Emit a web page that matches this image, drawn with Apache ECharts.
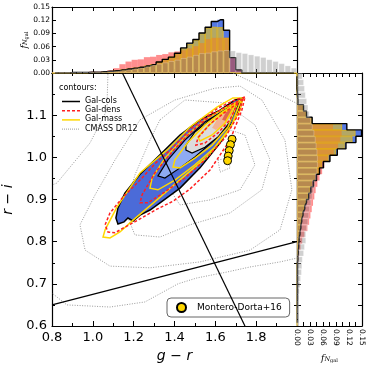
<!DOCTYPE html>
<html><head><meta charset="utf-8">
<script src="https://cdn.jsdelivr.net/npm/echarts@6/dist/echarts.min.js"></script>
<style>html,body{margin:0;padding:0;background:#fff}#c{width:371px;height:371px}</style>
</head><body><div id="c"></div>
<script>
// ---------- histogram bins ----------
const grCenters = [0.815,0.845,0.875,0.905,0.935,0.965,0.995,1.025,1.055,1.085,1.115,1.145,1.175,1.205,1.235,1.265,1.295,1.325,1.355,1.385,1.415,1.445,1.475,1.505,1.535,1.565,1.595,1.625,1.655,1.685,1.715,1.745,1.775,1.805,1.835,1.865,1.895,1.925,1.955,1.985];
const topCols  = [0,0,0,0.001,0.001,0.001,0.002,0.002,0.003,0.004, 0.005,0.007,0.009,0.011,0.013,0.016,0.019,0.025,0.031,0.036, 0.045,0.057,0.068,0.076,0.091,0.104,0.117,0.121,0.097,0.035, 0.007,0,0,0,0,0,0,0,0,0];
const topDens  = [0.001,0.001,0.001,0.001,0.002,0.002,0.003,0.003,0.004,0.006, 0.011,0.020,0.026,0.030,0.031,0.036,0.037,0.041,0.043,0.047, 0.049,0.052,0.056,0.061,0.068,0.077,0.080,0.080,0.080,0.036, 0.007,0,0,0,0,0,0,0,0,0];
const topMass  = [0,0,0,0.001,0.001,0.001,0.002,0.002,0.003,0.004, 0.006,0.008,0.010,0.012,0.014,0.017,0.020,0.026,0.032,0.037, 0.045,0.056,0.066,0.075,0.090,0.103,0.105,0.104,0.080,0.002, 0,0,0,0,0,0,0,0,0,0];
const topCmass = [0.001,0.001,0.001,0.001,0.002,0.002,0.002,0.003,0.003,0.004, 0.005,0.006,0.008,0.010,0.012,0.015,0.018,0.021,0.024,0.027, 0.030,0.034,0.037,0.041,0.045,0.046,0.049,0.051,0.052,0.051, 0.047,0.045,0.042,0.039,0.036,0.031,0.027,0.022,0.017,0.012];

const riCenters = [0.6075,0.6225,0.6375,0.6525,0.6675,0.6825,0.6975,0.7125,0.7275,0.7425,0.7575,0.7725,0.7875,0.8025,0.8175,0.8325,0.8475,0.8625,0.8775,0.8925,0.9075,0.9225,0.9375,0.9525,0.9675,0.9825,0.9975,1.0125,1.0275,1.0425,1.0575,1.0725,1.0875,1.1025,1.1175,1.1325,1.1475,1.1625,1.1775,1.1925];
const rightCols  = [0.001,0.001,0.001,0.001,0.001,0.001,0.001,0.001,0.001,0.001, 0.002,0.003,0.004,0.005,0.007,0.009,0.011,0.014,0.018,0.022, 0.027,0.032,0.038,0.045,0.052,0.061,0.076,0.093,0.113,0.136, 0.149,0.115,0.035,0.022,0.015,0.002,0.001,0,0,0];
const rightDens  = [0.001,0.001,0.001,0.001,0.001,0.001,0.001,0.001,0.001,0.001, 0.003,0.005,0.008,0.012,0.017,0.024,0.028,0.031,0.034,0.037, 0.040,0.043,0.047,0.052,0.058,0.063,0.072,0.085,0.095,0.100, 0.103,0.083,0.033,0.020,0.013,0.002,0.001,0,0,0];
const rightMass  = [0.001,0.001,0.001,0.001,0.001,0.001,0.001,0.001,0.001,0.001, 0.002,0.003,0.004,0.005,0.006,0.008,0.010,0.013,0.016,0.020, 0.025,0.030,0.035,0.042,0.050,0.058,0.073,0.090,0.110,0.128, 0.135,0.104,0.034,0.021,0.014,0.002,0.001,0,0,0];
const rightCmass = [0.002,0.002,0.003,0.004,0.005,0.006,0.008,0.009,0.011,0.012, 0.013,0.016,0.018,0.021,0.021,0.023,0.026,0.028,0.030,0.033, 0.036,0.039,0.042,0.045,0.047,0.048,0.048,0.047,0.045,0.043, 0.040,0.036,0.032,0.029,0.026,0.023,0.020,0.018,0.016,0.013];

// ---------- contours (g-r, r-i) ----------
const colsL1 = [[1.735,1.141],[1.696,1.136],[1.623,1.112],[1.525,1.089],[1.427,1.053],[1.329,1.006],[1.231,0.960],[1.157,0.915],[1.123,0.880],[1.113,0.856],[1.123,0.842],[1.153,0.847],[1.172,0.856],[1.197,0.849],[1.231,0.863],[1.280,0.875],[1.329,0.892],[1.427,0.927],[1.525,0.975],[1.623,1.034],[1.696,1.093]];
const colsL2 = [[1.721,1.136],[1.647,1.112],[1.549,1.084],[1.451,1.041],[1.368,0.994],[1.319,0.956],[1.353,0.951],[1.427,0.975],[1.500,1.001],[1.584,1.036],[1.662,1.074]];
const colsL3 = [[1.701,1.126],[1.647,1.112],[1.574,1.089],[1.500,1.060],[1.456,1.029],[1.456,1.017],[1.486,1.010],[1.549,1.024],[1.613,1.048],[1.672,1.084]];
const colsL4 = [[1.701,1.126],[1.662,1.117],[1.613,1.093],[1.584,1.070],[1.603,1.065],[1.647,1.079],[1.681,1.100]];
const colsL5 = [[1.691,1.122],[1.652,1.107],[1.633,1.089],[1.652,1.086],[1.681,1.105]];
const massL1 = [[1.735,1.141],[1.686,1.141],[1.608,1.119],[1.476,1.072],[1.363,1.017],[1.231,0.963],[1.118,0.882],[1.060,0.828],[1.050,0.811],[1.084,0.809],[1.133,0.823],[1.197,0.851],[1.314,0.899],[1.442,0.953],[1.559,1.001],[1.657,1.058],[1.721,1.112]];
const massL2 = [[1.726,1.136],[1.647,1.117],[1.549,1.089],[1.451,1.048],[1.353,0.998],[1.290,0.951],[1.280,0.927],[1.319,0.923],[1.402,0.946],[1.500,0.982],[1.598,1.024],[1.681,1.077]];
const massL3 = [[1.711,1.131],[1.633,1.107],[1.549,1.077],[1.466,1.036],[1.402,0.994],[1.393,0.977],[1.427,0.975],[1.500,0.998],[1.584,1.029],[1.662,1.072]];
const massL4 = [[1.696,1.124],[1.633,1.103],[1.564,1.074],[1.515,1.048],[1.525,1.039],[1.584,1.053],[1.647,1.081]];
const densL1 = [[1.745,1.143],[1.696,1.136],[1.613,1.117],[1.486,1.070],[1.378,1.017],[1.309,0.987],[1.231,0.946],[1.148,0.906],[1.084,0.868],[1.060,0.840],[1.074,0.823],[1.109,0.821],[1.148,0.832],[1.231,0.854],[1.314,0.877],[1.393,0.896],[1.476,0.925],[1.574,0.970],[1.672,1.041],[1.730,1.112]];
const densL2 = [[1.735,1.138],[1.662,1.122],[1.574,1.098],[1.476,1.058],[1.388,1.013],[1.304,0.963],[1.241,0.911],[1.231,0.892],[1.270,0.892],[1.353,0.918],[1.451,0.951],[1.549,0.994],[1.647,1.046],[1.711,1.100]];
const densL3 = [[1.711,1.129],[1.647,1.107],[1.574,1.079],[1.515,1.046],[1.505,1.029],[1.549,1.034],[1.613,1.058],[1.672,1.089]];
const cmassL1 = [[1.094,1.231],[1.074,1.2],[1.069,1.112],[0.986,1.034],[0.824,0.939],[0.741,0.923],[0.741,0.685],[0.8,0.678],[0.873,0.650],[1.084,0.645],[1.255,0.657],[1.417,0.700],[1.510,0.714],[1.657,0.728],[1.770,0.740],[1.917,0.752],[2.063,0.768],[2.063,1.112],[1.966,1.136],[1.686,1.2],[1.672,1.231]];
const cmassL2 = [[1.231,1.089],[1.402,1.136],[1.598,1.164],[1.721,1.169],[1.828,1.136],[1.941,1.041],[1.975,0.923],[1.917,0.828],[1.770,0.780],[1.525,0.752],[1.280,0.738],[1.084,0.742],[0.962,0.780],[0.937,0.840],[1.011,0.911],[1.109,0.994]];
const cmassL3 = [[1.329,1.089],[1.451,1.136],[1.647,1.129],[1.794,1.077],[1.868,0.994],[1.828,0.923],[1.672,0.868],[1.476,0.840],[1.329,0.811],[1.206,0.816],[1.157,0.875],[1.206,0.958],[1.280,1.041]];
const cmassL4 = [[1.451,1.041],[1.598,1.077],[1.745,1.053],[1.794,0.982],[1.721,0.923],[1.574,0.899],[1.427,0.887],[1.378,0.923],[1.402,0.982]];
const cmassL5 = [[1.613,0.994],[1.662,0.998],[1.672,0.975],[1.623,0.965]];

// ---------- points and cut lines ----------
const mdGR = [1.682,1.674,1.668,1.663,1.660];
const mdRI = [1.043,1.030,1.016,1.003,0.992];
const cutSteepGR = [1.145,1.745];
const cutSteepRI = [1.2,0.6];
const cutFlatGR = [0.8,2.0];
const cutFlatRI = [0.65,0.80];

const FONT = 'DejaVu Sans';

function poly(name, pts, style, z) {
  return {
    type: 'custom', name: name, coordinateSystem: 'cartesian2d', xAxisIndex: 0, yAxisIndex: 0,
    clip: true, silent: true, z: z, data: pts,
    renderItem: function (params, api) {
      if (params.dataIndex !== 0) return null;
      return { type: 'polygon', shape: { points: pts.map(function (p) { return api.coord(p); }) }, style: style };
    }
  };
}

const tickStyle = { inside: true, length: 5, lineStyle: { color: '#000', width: 1 } };
const minorStyle = { show: true, splitNumber: 2, length: 3, lineStyle: { color: '#000', width: 1 } };
const lineAx = { show: true, onZero: false, lineStyle: { color: '#000', width: 1.2 } };
const smallTick = { inside: true, length: 4, lineStyle: { color: '#000' } };

const fName = '{f|f}{n|N}{g|gal}';
const fRich = {
  f: { fontFamily: 'DejaVu Serif', fontStyle: 'italic', fontSize: 9, verticalAlign: 'bottom', lineHeight: 12 },
  n: { fontFamily: 'DejaVu Serif', fontStyle: 'italic', fontSize: 6.5, verticalAlign: 'bottom', lineHeight: 9 },
  g: { fontFamily: 'DejaVu Serif', fontSize: 5, verticalAlign: 'bottom', lineHeight: 8 }
};

const option = {
  animation: false,
  backgroundColor: '#fff',
  grid: [
    { left: 52, top: 73, width: 245, height: 253, containLabel: false, outerBoundsMode: 'none' },
    { left: 52, top: 7, width: 245, height: 66, containLabel: false, outerBoundsMode: 'none' },
    { left: 297, top: 73, width: 65, height: 253, containLabel: false, outerBoundsMode: 'none' }
  ],
  xAxis: [
    { type: 'value', gridIndex: 0, min: 0.8, max: 2.0, interval: 0.2, position: 'bottom',
      axisLine: lineAx, axisTick: tickStyle, minorTick: minorStyle, splitLine: { show: false },
      axisLabel: { fontFamily: FONT, fontSize: 13, color: '#000', margin: 5, showMaxLabel: false, formatter: function (v) { return v.toFixed(1); } },
      name: 'g \u2212 r', nameLocation: 'middle', nameGap: 23,
      nameTextStyle: { fontFamily: FONT, fontStyle: 'italic', fontSize: 14, color: '#000' } },
    { type: 'value', gridIndex: 0, min: 0.8, max: 2.0, interval: 0.2, position: 'top',
      axisLine: lineAx, axisTick: tickStyle, minorTick: minorStyle, splitLine: { show: false }, axisLabel: { show: false } },
    { type: 'category', gridIndex: 1, data: grCenters, show: false, boundaryGap: true },
    { type: 'value', gridIndex: 1, min: 0.8, max: 2.0, interval: 0.1, position: 'bottom',
      axisLine: lineAx, axisTick: smallTick, splitLine: { show: false }, axisLabel: { show: false } },
    { type: 'value', gridIndex: 1, min: 0.8, max: 2.0, interval: 0.1, position: 'top',
      axisLine: lineAx, axisTick: smallTick, splitLine: { show: false }, axisLabel: { show: false } },
    { type: 'value', gridIndex: 2, min: 0, max: 0.15, interval: 0.03, position: 'bottom',
      axisLine: lineAx, axisTick: smallTick,
      minorTick: { show: true, splitNumber: 2, length: 4, lineStyle: { color: '#000' } }, splitLine: { show: false },
      axisLabel: { fontFamily: FONT, fontSize: 7.5, color: '#000', rotate: -90, margin: 3, formatter: function (v) { return v.toFixed(2); } },
      name: fName, nameLocation: 'middle', nameGap: 25, nameTextStyle: { rich: fRich } },
    { type: 'value', gridIndex: 2, min: 0, max: 0.15, interval: 0.03, position: 'top',
      axisLine: lineAx, axisTick: smallTick,
      minorTick: { show: true, splitNumber: 2, length: 4, lineStyle: { color: '#000' } }, splitLine: { show: false }, axisLabel: { show: false } }
  ],
  yAxis: [
    { type: 'value', gridIndex: 0, min: 0.6, max: 1.2, interval: 0.1, position: 'left',
      axisLine: lineAx, axisTick: tickStyle, minorTick: minorStyle, splitLine: { show: false },
      axisLabel: { fontFamily: FONT, fontSize: 13, color: '#000', margin: 5, showMaxLabel: false, formatter: function (v) { return v.toFixed(1); } },
      name: 'r \u2212 i', nameLocation: 'middle', nameGap: 31,
      nameTextStyle: { fontFamily: FONT, fontStyle: 'italic', fontSize: 14, color: '#000' } },
    { type: 'value', gridIndex: 0, min: 0.6, max: 1.2, interval: 0.1, position: 'right',
      axisLine: lineAx, axisTick: tickStyle, minorTick: minorStyle, splitLine: { show: false }, axisLabel: { show: false } },
    { type: 'value', gridIndex: 1, min: 0, max: 0.15, interval: 0.03, position: 'left',
      axisLine: lineAx, axisTick: smallTick, splitLine: { show: false },
      axisLabel: { fontFamily: FONT, fontSize: 7.5, color: '#000', margin: 2, formatter: function (v) { return v.toFixed(2); } },
      name: fName, nameLocation: 'middle', nameGap: 23, nameRotate: 90, nameMoveOverlap: false, nameTextStyle: { rich: fRich } },
    { type: 'value', gridIndex: 1, min: 0, max: 0.15, interval: 0.03, position: 'right',
      axisLine: lineAx, axisTick: smallTick, splitLine: { show: false }, axisLabel: { show: false } },
    { type: 'category', gridIndex: 2, data: riCenters, show: false, boundaryGap: true },
    { type: 'value', gridIndex: 2, min: 0.6, max: 1.2, interval: 0.05, position: 'left',
      axisLine: lineAx, axisTick: smallTick, splitLine: { show: false }, axisLabel: { show: false } },
    { type: 'value', gridIndex: 2, min: 0.6, max: 1.2, interval: 0.05, position: 'right',
      axisLine: lineAx, axisTick: smallTick, splitLine: { show: false }, axisLabel: { show: false } }
  ],
  legend: [{
    data: ['Montero-Dorta+16'], left: 167, top: 298, orient: 'horizontal',
    itemWidth: 9, itemHeight: 9, padding: [4, 8, 4, 9],
    borderColor: '#666', borderWidth: 1, borderRadius: 4, backgroundColor: '#fff',
    textStyle: { fontFamily: FONT, fontSize: 9, color: '#000', padding: [0, 0, 0, 6] }
  }],
  graphic: [
    { type: 'text', left: 59, top: 84, style: { text: 'contours:', font: '8px "DejaVu Sans"', fill: '#000' }, z: 100 },
    { type: 'line', shape: { x1: 62, y1: 101.5, x2: 80, y2: 101.5 }, style: { stroke: '#000', lineWidth: 1.5 }, z: 100 },
    { type: 'line', shape: { x1: 62, y1: 110.7, x2: 80, y2: 110.7 }, style: { stroke: '#ff2020', lineWidth: 1.5, lineDash: [3, 2] }, z: 100 },
    { type: 'line', shape: { x1: 62, y1: 119.9, x2: 80, y2: 119.9 }, style: { stroke: '#ffd700', lineWidth: 1.5 }, z: 100 },
    { type: 'line', shape: { x1: 62, y1: 129.1, x2: 80, y2: 129.1 }, style: { stroke: '#999', lineWidth: 1, lineDash: [1, 1] }, z: 100 },
    { type: 'text', left: 85, top: 97, style: { text: 'Gal-cols', font: '8px "DejaVu Sans"', fill: '#000' }, z: 100 },
    { type: 'text', left: 85, top: 106.2, style: { text: 'Gal-dens', font: '8px "DejaVu Sans"', fill: '#000' }, z: 100 },
    { type: 'text', left: 85, top: 115.4, style: { text: 'Gal-mass', font: '8px "DejaVu Sans"', fill: '#000' }, z: 100 },
    { type: 'text', left: 85, top: 124.6, style: { text: 'CMASS DR12', font: '8px "DejaVu Sans"', fill: '#000' }, z: 100 }
  ],
  series: []
};

const S = option.series;
// ---- main panel ----
const grayDot = { fill: 'none', stroke: '#9a9a9a', lineWidth: 1, lineDash: [1, 1.5] };
[cmassL1, cmassL2, cmassL3, cmassL4, cmassL5].forEach(function (c) { S.push(poly('CMASS DR12', c, grayDot, 2)); });
S.push(poly('Gal-cols', colsL1, { fill: '#4b6bd8', stroke: '#000', lineWidth: 1.5 }, 3));
S.push(poly('Gal-cols', colsL2, { fill: '#8eaaf2', stroke: '#000', lineWidth: 1.2 }, 4));
S.push(poly('Gal-cols', colsL3, { fill: '#dcdcdc', stroke: '#000', lineWidth: 1.2 }, 5));
S.push(poly('Gal-cols', colsL4, { fill: '#f2b394', stroke: 'none' }, 6));
S.push(poly('Gal-cols', colsL5, { fill: '#e0654d', stroke: 'none' }, 7));
const yel = { fill: 'none', stroke: '#ffd700', lineWidth: 1.5 };
[massL1, massL2, massL3, massL4].forEach(function (c) { S.push(poly('Gal-mass', c, yel, 8)); });
const redDash = { fill: 'none', stroke: '#ff2020', lineWidth: 1.5, lineDash: [3, 2] };
[densL1, densL2, densL3].forEach(function (c) { S.push(poly('Gal-dens', c, redDash, 9)); });
S.push({ type: 'line', xAxisIndex: 0, yAxisIndex: 0, data: cutSteepGR.map(function (g, i) { return [g, cutSteepRI[i]]; }),
  symbol: 'none', lineStyle: { color: '#000', width: 1.2 }, z: 10, silent: true, clip: true });
S.push({ type: 'line', xAxisIndex: 0, yAxisIndex: 0, data: cutFlatGR.map(function (g, i) { return [g, cutFlatRI[i]]; }),
  symbol: 'none', lineStyle: { color: '#000', width: 1.2 }, z: 10, silent: true, clip: true });
S.push({ type: 'scatter', name: 'Montero-Dorta+16', xAxisIndex: 0, yAxisIndex: 0,
  data: mdGR.map(function (g, i) { return [g, mdRI[i]]; }), symbol: 'circle', symbolSize: 8,
  itemStyle: { color: '#ffd700', borderColor: '#000', borderWidth: 1, opacity: 1 }, z: 12 });

// ---- top histogram ----
function topBar(name, d, color, border, z) {
  return { type: 'bar', name: name + ' ', xAxisIndex: 2, yAxisIndex: 2, data: d, barGap: '-100%', barCategoryGap: '0%',
    itemStyle: { color: color, borderColor: border, borderWidth: border ? 0.8 : 0 }, z: z, silent: true };
}
S.push(topBar('Gal-cols', topCols, 'rgba(65,105,225,0.9)', null, 3));
S.push(topBar('Gal-dens', topDens, 'rgba(255,30,30,0.5)', null, 4));
S.push(topBar('Gal-mass', topMass, 'rgba(255,205,0,0.55)', 'rgba(235,185,0,0.9)', 5));
S.push({ type: 'line', xAxisIndex: 2, yAxisIndex: 2, data: topCols, step: 'middle', symbol: 'none',
  lineStyle: { color: '#000', width: 1.4 }, z: 6, silent: true });
S.push(topBar('CMASS DR12', topCmass, 'rgba(120,120,120,0.35)', 'rgba(255,255,255,0.3)', 7));

// ---- right histogram ----
function rightBar(name, d, color, border, z) {
  return { type: 'bar', name: name + '  ', xAxisIndex: 5, yAxisIndex: 4, data: d, barGap: '-100%', barCategoryGap: '0%',
    itemStyle: { color: color, borderColor: border, borderWidth: border ? 0.8 : 0 }, z: z, silent: true };
}
S.push(rightBar('Gal-cols', rightCols, 'rgba(65,105,225,0.9)', null, 3));
S.push(rightBar('Gal-dens', rightDens, 'rgba(255,30,30,0.5)', null, 4));
S.push(rightBar('Gal-mass', rightMass, 'rgba(255,205,0,0.55)', 'rgba(235,185,0,0.9)', 5));
S.push({ type: 'line', xAxisIndex: 5, yAxisIndex: 4, data: rightCols, step: 'middle', symbol: 'none',
  lineStyle: { color: '#000', width: 1.4 }, z: 6, silent: true });
S.push(rightBar('CMASS DR12', rightCmass, 'rgba(120,120,120,0.35)', 'rgba(255,255,255,0.3)', 7));

const chart = echarts.init(document.getElementById('c'), null, { renderer: 'canvas' });
chart.setOption(option);
</script>
</body></html>
